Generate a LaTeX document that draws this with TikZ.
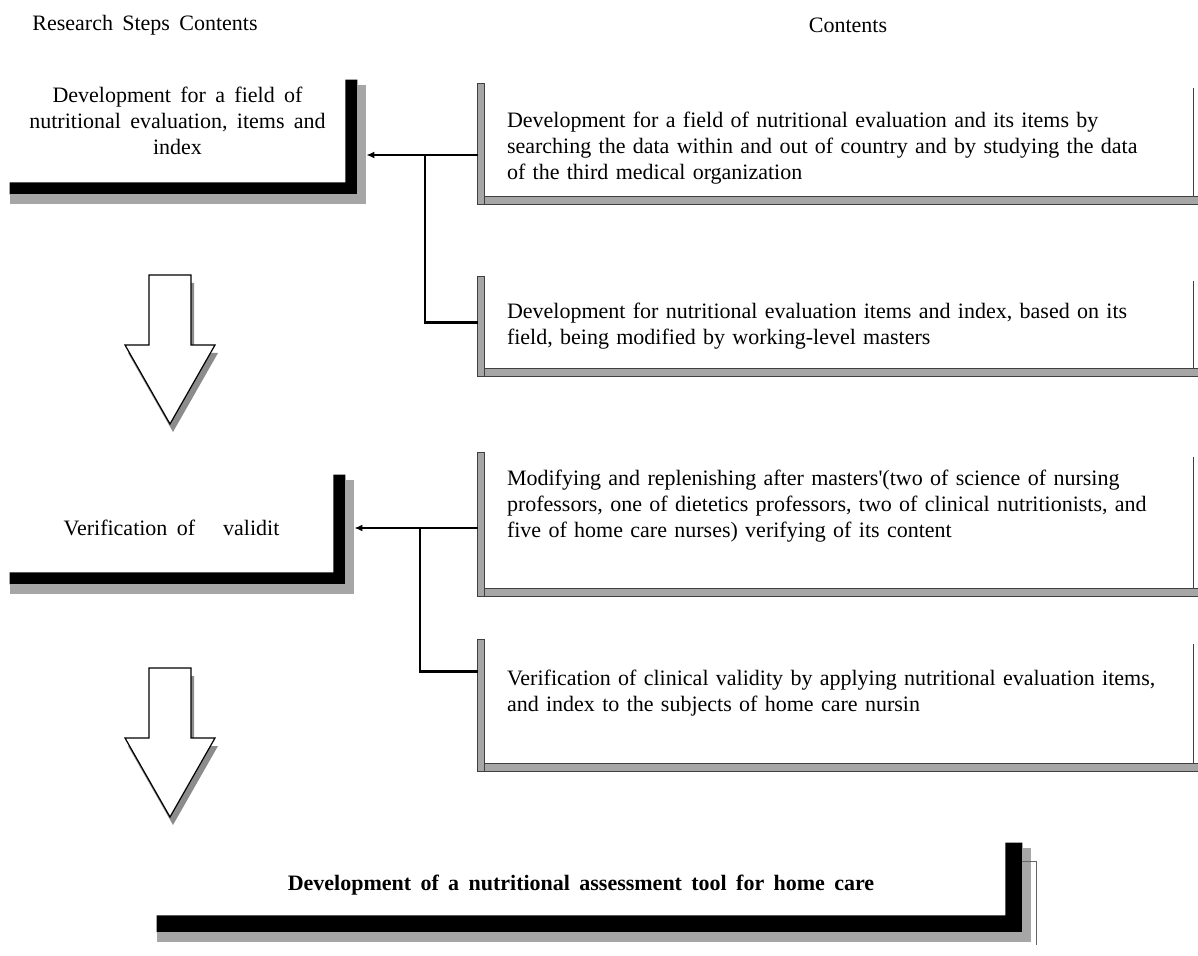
\documentclass[tikz,border=0pt]{standalone}
\usepackage{fontspec}
\setmainfont{Liberation Serif}[WordSpace=1.7]
\usetikzlibrary{calc,arrows.meta,positioning}

\newcommand\stepframe[2]{% node, bar width
  \fill[black] (#1.south west) -| (#1.north east) -- ++(#2,0) |- ($(#1.south west)+(0,#2)$) -- cycle;
  \fill[shade] ($(#1.north east)+(#2,5)$) rectangle ($(#1.south east)+(#2+9,#2+10)$);
  \fill[shade] ($(#1.south west)+(0,#2)$) rectangle ($(#1.south east)+(#2+9,#2+10)$);
}
\newcommand\itemframe[1]{%
  \filldraw[shade,draw=black!75] ($(#1.north west)+(-7,0)$) rectangle ($(#1.south west)+(0,8)$);
  \filldraw[shade,draw=black!75] (#1.south west) rectangle ($(#1.south east)+(5,8)$);
  \draw[black!75,line width=0.6pt] ($(#1.north east)+(0,4)$) -- (#1.south east);
}
\newcommand\flowarrow[1]{% top centre of the shaft
  \fill[black!45] ($(#1)+(3,8)$) ++(-21,0) -- ++(42,0) -- ++(0,70) -- ++(24,0) -- ++(-45,79) -- ++(-45,-79) -- ++(24,0) -- cycle;
  \filldraw[fill=white,line width=0.6pt] (#1) ++(-21,0) -- ++(42,0) -- ++(0,70) -- ++(24,0) -- ++(-45,79) -- ++(-45,-79) -- ++(24,0) -- cycle;
}
% invisible struts to move a text block down (\dn) or up (\up) in its frame
\newcommand\dn[1]{\rule{0pt}{#1}}
\newcommand\up[1]{\rule[-#1]{0pt}{0pt}}

\begin{document}
\begin{tikzpicture}[x=0.5pt,y=-0.5pt,
    shade/.style={fill=black!35},
    stepbox/.style={inner sep=0pt,align=center,font=\fontsize{11}{13}\selectfont},
    itembox/.style={text width=332pt,inner xsep=11pt,inner ysep=0pt,align=left,font=\fontsize{11}{13}\selectfont},
    link/.style={line width=1.4pt},
    tip/.style={-{Latex[length=4pt,width=3.5pt]}}]
  \useasboundingbox (0,0) rectangle (1198,956);

  \node[font=\fontsize{11}{13}\selectfont] (h1) at (145,25) {Research Steps Contents};
  \node[font=\fontsize{11}{13}\selectfont] (h2) at (848,25) {Contents};

  \node[stepbox,minimum width=167.5pt,minimum height=51pt] (s1) at (177.5,131)
    {Development for a field of\\nutritional evaluation, items and\\index\up{10.5pt}};
  \node[stepbox,minimum width=161.5pt,minimum height=48.5pt] (s2) at (171.5,523.5)
    {\dn{12.5pt}Verification of\ \ \ validit};
  \node[stepbox,minimum width=424pt,minimum height=36pt,font=\fontsize{11}{13}\selectfont\bfseries] (goal) at (581,879)
    {\dn{14pt}Development of a nutritional assessment tool for home care};

  \node[itembox,minimum height=56pt] (c1) at (839,140)
    {\dn{16pt}Development for a field of nutritional evaluation and its items by\\searching the data within and out of country and by studying the data\\of the third medical organization};
  \node[itembox,minimum height=45.5pt] (c2) at (839,322.5)
    {\dn{11.5pt}Development for nutritional evaluation items and index, based on its\\field, being modified by working-level masters};
  \node[itembox,minimum height=67.5pt] (c3) at (839,520.5)
    {Modifying and replenishing after masters\textquotesingle(two of science of nursing\\professors, one of dietetics professors, two of clinical nutritionists, and\\five of home care nurses) verifying of its content\up{16.5pt}};
  \node[itembox,minimum height=61.5pt] (c4) at (839,701.5)
    {Verification of clinical validity by applying nutritional evaluation items,\\and index to the subjects of home care nursin\up{10.5pt}};

  \stepframe{s1}{12}
  \stepframe{s2}{12}
  \stepframe{goal}{17}
  \draw[black!60] ($(goal.north east)+(17,19)$) -| ($(goal.south east)+(31,30)$);
  \itemframe{c1}
  \itemframe{c2}
  \itemframe{c3}
  \itemframe{c4}

  \coordinate (a1) at (170,275);
  \coordinate (a2) at (170,668);
  \flowarrow{a1}
  \flowarrow{a2}

  \coordinate (b1) at (425,155);
  \coordinate (b2) at (420,528);
  \draw[link,tip] ([xshift=-3.5pt]b1 -| c1.west) -- ([xshift=10.5pt]b1 -| s1.east);
  \draw[link] (b1) |- ([xshift=-3.5pt]c2.west);
  \draw[link,tip] ([xshift=-3.5pt]b2 -| c3.west) -- ([xshift=10.5pt]b2 -| s2.east);
  \draw[link] (b2) |- ([xshift=-3.5pt,yshift=-16pt]c4.north west);
\end{tikzpicture}
\end{document}
